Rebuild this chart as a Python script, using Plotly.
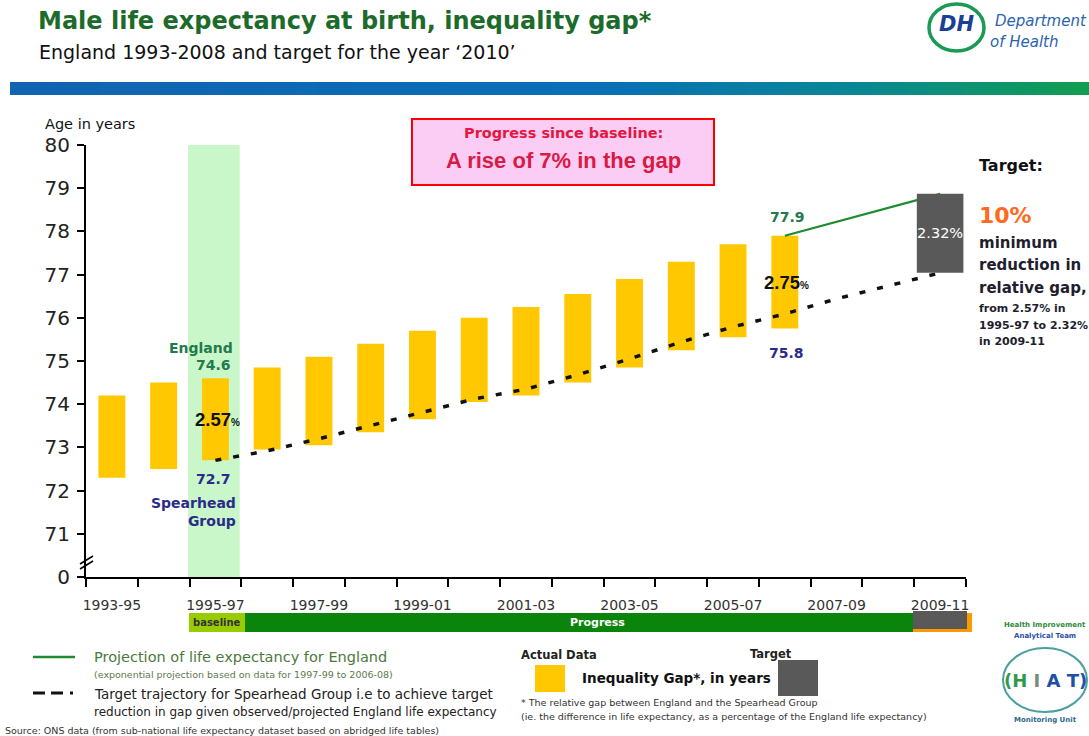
import plotly.graph_objects as go

# ---------------- data ----------------
categories = ["1993-95", "1994-96", "1995-97", "1996-98", "1997-99", "1998-00",
              "1999-01", "2000-02", "2001-03", "2002-04", "2003-05", "2004-06",
              "2005-07", "2006-08", "2007-09", "2008-10", "2009-11"]
england = [74.2, 74.5, 74.6, 74.85, 75.1, 75.4, 75.7, 76.0, 76.25, 76.55,
           76.9, 77.3, 77.7, 77.9]
spearhead = [72.3, 72.5, 72.7, 72.95, 73.05, 73.35, 73.65, 74.05, 74.2, 74.5,
             74.85, 75.25, 75.55, 75.75]
trajectory_start = 2   # 1995-97
trajectory = [72.7, 72.92, 73.2, 73.5, 73.82, 74.12, 74.35, 74.68, 75.05,
              75.44, 75.79, 76.09, 76.44, 76.74, 77.04]
projection_start = 13  # 2006-08
projection = [77.9, 78.22, 78.55, 78.87]
gap_label_idx = [2, 13]
gap_label_text = ["2.57", "2.75"]
target_gap_text = "2.32%"
y_tickvals = [70, 71, 72, 73, 74, 75, 76, 77, 78, 79, 80]
y_ticktext = ["0", "71", "72", "73", "74", "75", "76", "77", "78", "79", "80"]

# ---------------- geometry helpers ----------------
W, H = 1089, 736
L, R, T, B = 86, 966, 145, 577


def px(x):
    return (x - L) / (R - L)


def py(y):
    return (B - y) / (B - T)


FONT = "DejaVu Sans"
GREEN_TXT = "#237a4c"
NAVY = "#2b2b8a"

fig = go.Figure()

# gap bars
idx = list(range(len(england)))
fig.add_trace(go.Bar(
    x=idx, y=[e - s for e, s in zip(england, spearhead)], base=spearhead,
    width=0.52, marker=dict(color="#ffc800", line=dict(width=0)),
    hoverinfo="skip", showlegend=False))

# target trajectory (dotted)
fig.add_trace(go.Scatter(
    x=list(range(trajectory_start, trajectory_start + len(trajectory))),
    y=trajectory, mode="lines",
    line=dict(color="#111111", width=3.5, dash="6px,12px"),
    hoverinfo="skip", showlegend=False))

# England projection
fig.add_trace(go.Scatter(
    x=list(range(projection_start, projection_start + len(projection))),
    y=projection, mode="lines", line=dict(color="#1f8c2f", width=2.2),
    hoverinfo="skip", showlegend=False))

# target bar (overlay axes so that it sits on top of the lines)
fig.add_trace(go.Bar(
    x=[len(categories) - 1], y=[projection[-1] - trajectory[-1]],
    base=[trajectory[-1]], width=0.9, marker=dict(color="#595959", line=dict(width=0)),
    text=[target_gap_text], textposition="inside", insidetextanchor="middle",
    textangle=0, constraintext="none",
    textfont=dict(color="white", size=14.5, family=FONT),
    xaxis="x2", yaxis="y2", hoverinfo="skip", showlegend=False))

shapes = []
annotations = []


def rect(x0, y0, x1, y1, fill, line_color=None, lw=0, layer="above"):
    shapes.append(dict(type="rect", xref="paper", yref="paper",
                       x0=px(x0), x1=px(x1), y0=py(y1), y1=py(y0),
                       fillcolor=fill, layer=layer,
                       line=dict(color=line_color or fill, width=lw)))


def line(x0, y0, x1, y1, color, width, dash="solid"):
    shapes.append(dict(type="line", xref="paper", yref="paper",
                       x0=px(x0), x1=px(x1), y0=py(y0), y1=py(y1),
                       line=dict(color=color, width=width, dash=dash)))


def text(x, y, s, size, color="#111", bold=False, xanchor="left", family=FONT,
         italic=False, align="left"):
    if bold:
        s = "<b>" + s + "</b>"
    if italic:
        s = "<i>" + s + "</i>"
    annotations.append(dict(xref="paper", yref="paper", x=px(x), y=py(y),
                            text=s, showarrow=False, xanchor=xanchor,
                            yanchor="middle", align=align,
                            font=dict(size=size, color=color, family=family)))


# baseline highlight band
shapes.append(dict(type="rect", xref="x", yref="y", x0=1.47, x1=2.47,
                   y0=70, y1=80, fillcolor="#c9f7c9", line=dict(width=0),
                   layer="below"))

# top gradient bar
stops = [(0.0, (18, 100, 175)), (0.55, (10, 112, 182)), (0.78, (10, 135, 150)),
         (1.0, (18, 158, 80))]
n = 60
x_start, x_end = 10, 1089
for k in range(n):
    t = (k + 0.5) / n
    for j in range(len(stops) - 1):
        if stops[j][0] <= t <= stops[j + 1][0]:
            a, ca = stops[j]
            b, cb = stops[j + 1]
            f = (t - a) / (b - a)
            c = tuple(int(ca[i] + (cb[i] - ca[i]) * f) for i in range(3))
            break
    xa = x_start + (x_end - x_start) * k / n
    xb = x_start + (x_end - x_start) * (k + 1) / n + 0.8
    rect(xa, 82, xb, 95, "rgb(%d,%d,%d)" % c)

# title & subtitle
text(36, 21, "Male life expectancy at birth, inequality gap*", 24, "#1d6b2a", bold=True)
text(37, 52, "England 1993-2008 and target for the year \u20182010\u2019", 19, "#111")

# DH logo
shapes.append(dict(type="circle", xref="paper", yref="paper",
                   x0=px(929), x1=px(984), y0=py(51), y1=py(4),
                   line=dict(color="#1a9a55", width=3.5)))
text(956, 24, "DH", 21, "#1b3f94", bold=True, xanchor="center", italic=True)
text(993, 21, "Department", 15, "#2a63b0", italic=True)
text(988, 42, "of Health", 15, "#2a63b0", italic=True)

# progress box
rect(412, 119, 714, 185, "#fbcdf5", "#ff0000", 2)
text(563, 133, "Progress since baseline:", 14.5, "#e3173f", bold=True, xanchor="center")
text(563, 160, "A rise of 7% in the gap", 22, "#d91a45", bold=True,
     xanchor="center", family="Liberation Sans")

# y-axis title
text(43, 124, "Age in years", 14.5, "#111")

# axis break marks
line(80, 564, 93, 556, "black", 1.5)
line(80, 569, 93, 561, "black", 1.5)

# progress strip under the axis
rect(189, 613, 245, 632, "#99cc00")
rect(245, 613, 913, 632, "#0b840b")
rect(913, 613, 972, 632, "#ff9900")
rect(913, 611, 967, 629, "#595959")
text(191, 622, "baseline", 10, "#333", bold=True)
text(597, 622, "Progress", 11, "white", bold=True, xanchor="center")

# right-hand target text
text(977, 165, "Target:", 16, "#111", bold=True)
text(977, 215, "10%", 22, "#ff6a1f", bold=True)
text(977, 243, "minimum", 15, "#1e1e2e", bold=True)
text(977, 265, "reduction in", 15, "#1e1e2e", bold=True)
text(977, 288, "relative gap,", 15, "#1e1e2e", bold=True)
text(977, 308, "from 2.57% in", 11, "#1e1e2e", bold=True)
text(977, 325, "1995-97 to 2.32%", 11, "#1e1e2e", bold=True)
text(977, 341, "in 2009-11", 11, "#1e1e2e", bold=True)

# bottom legend (left)
line(33, 657, 75, 657, "#1f8c2f", 2.5)
line(33, 693, 73, 693, "#111", 3, "12px,6px,12px,7px,3px")
text(92, 657, "Projection of life expectancy for England", 14.5, "#4b7a3c")
text(92, 674, "(exponential projection based on data for 1997-99 to 2006-08)", 9.5, "#5c7a4c")
text(92, 694, "Target trajectory for Spearhead Group i.e to achieve target", 13.5, "#222")
text(92, 712, "reduction in gap given observed/projected England life expectancy", 12, "#222")
text(3, 730, "Source: ONS data (from sub-national life expectancy dataset based on abridged life tables)", 9.5, "#333")

# bottom legend (middle)
text(519, 655, "Actual Data", 11.5, "#222", bold=True)
text(748, 654, "Target", 11.5, "#222", bold=True)
rect(535, 665, 565, 692, "#ffc800")
text(580, 678, "Inequality Gap*, in years", 13.5, "#111", bold=True)
rect(778, 660, 818, 696, "#595959")
text(519, 702, "* The relative gap between England and the Spearhead Group", 9.5, "#333")
text(519, 716, "(ie. the difference in life expectancy, as a percentage of the England life expectancy)", 9.5, "#333")

# HIAT logo
shapes.append(dict(type="circle", xref="paper", yref="paper",
                   x0=px(1003), x1=px(1087), y0=py(712), y1=py(648),
                   line=dict(color="#4aa0a0", width=2)))
text(1045, 625, "Health Improvement", 7, "#2e8a3a", bold=True, xanchor="center")
text(1045, 636, "Analytical Team", 7, "#2a4fa8", bold=True, xanchor="center")
annotations.append(dict(
    xref="paper", yref="paper", x=px(1045), y=py(680), showarrow=False,
    xanchor="center", yanchor="middle",
    text="<b><span style='color:#2e9a4a'>(H</span> <span style='color:#7a8a7a'>I</span>"
         " <span style='color:#1f4fa8'>A T)</span></b>",
    font=dict(size=18, family=FONT)))
text(1045, 720, "Monitoring Unit", 7, "#2a6a8a", bold=True, xanchor="center")

# data labels tied to data
i0 = gap_label_idx[0]
annotations.append(dict(x=i0, y=england[i0], xref="x", yref="y", showarrow=False,
                        text="<b>England</b>", xanchor="center", yanchor="bottom",
                        xshift=-14, yshift=20,
                        font=dict(size=14, color=GREEN_TXT, family=FONT)))
for k in gap_label_idx:
    annotations.append(dict(x=k, y=england[k], xref="x", yref="y", showarrow=False,
                            text="<b>%.1f</b>" % england[k], xanchor="center",
                            yanchor="bottom", xshift=-2 if k == i0 else 3,
                            yshift=3 if k == i0 else 9,
                            font=dict(size=14, color=GREEN_TXT, family=FONT)))
    annotations.append(dict(x=k, y=spearhead[k], xref="x", yref="y", showarrow=False,
                            text="<b>%.1f</b>" % spearhead[k], xanchor="center",
                            yanchor="top", xshift=-2 if k == i0 else 2,
                            yshift=-9 if k == i0 else -14,
                            font=dict(size=14, color=NAVY, family=FONT)))
for k, s in zip(gap_label_idx, gap_label_text):
    annotations.append(dict(x=k, y=(england[k] + spearhead[k]) / 2, xref="x", yref="y",
                            showarrow=False, xanchor="center", yanchor="middle",
                            xshift=2,
                            text="<b>%s<span style='font-size:10px'>%%</span></b>" % s,
                            font=dict(size=18.5, color="#111",
                                      family="Liberation Sans Narrow, Liberation Sans")))
annotations.append(dict(x=i0, y=spearhead[i0], xref="x", yref="y", showarrow=False,
                        text="<b>Spearhead<br>Group</b>", xanchor="right", align="right",
                        yanchor="top", xshift=23, yshift=-33,
                        font=dict(size=14, color=NAVY, family=FONT)))

fig.update_layout(
    width=W, height=H,
    margin=dict(l=L, r=W - R, t=T, b=H - B, autoexpand=False),
    paper_bgcolor="white", plot_bgcolor="white",
    font=dict(family=FONT, color="#222"),
    showlegend=False, barmode="overlay",
    xaxis=dict(range=[-0.5, len(categories) - 0.5], showgrid=False, zeroline=False,
               showline=True, linecolor="black", linewidth=1.5,
               tickmode="array", tickvals=list(range(0, len(categories), 2)),
               ticktext=categories[::2], ticks="", ticklabelstandoff=14,
               tickfont=dict(size=14, color="#333", family=FONT),
               minor=dict(tickmode="array",
                          tickvals=[i - 0.5 for i in range(len(categories) + 1)],
                          ticks="outside", ticklen=8, tickwidth=1.5, tickcolor="black")),
    yaxis=dict(range=[70, 80], showgrid=False, zeroline=False, showline=True,
               linecolor="black", linewidth=2, tickmode="array",
               tickvals=y_tickvals, ticktext=y_ticktext, ticks="outside",
               ticklen=7, tickwidth=1.5, tickcolor="black", ticklabelstandoff=3,
               tickfont=dict(size=20, color="#222", family=FONT)),
    xaxis2=dict(overlaying="x", matches="x", visible=False),
    yaxis2=dict(overlaying="y", matches="y", visible=False),
    shapes=shapes, annotations=annotations,
)

fig.write_html("out.html", config={"displayModeBar": False},
               post_script="document.body.style.margin='0px';"
                           "document.body.style.overflow='hidden';")
